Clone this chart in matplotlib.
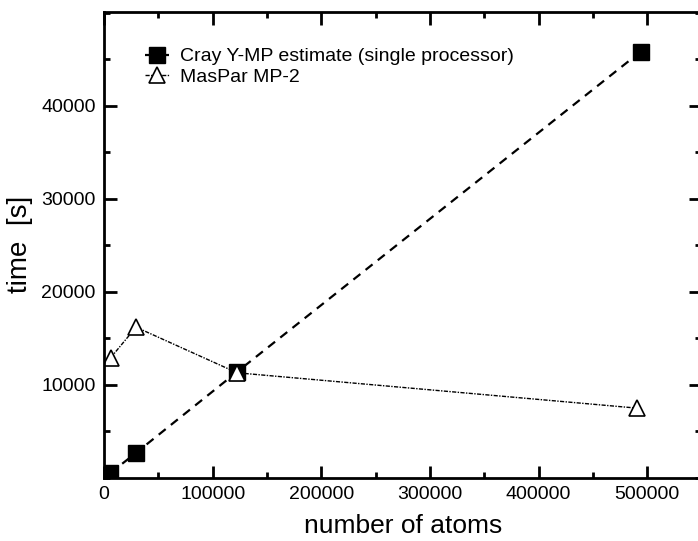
import numpy as np
import matplotlib.pyplot as plt
from matplotlib.ticker import MultipleLocator

plt.rcParams['font.family'] = ['Liberation Sans', 'DejaVu Sans']

# data
atoms_cray = [5500, 29500, 122500, 494000]
time_cray = [500, 2700, 11400, 45800]
atoms_maspar = [6000, 29500, 122500, 491000]
time_maspar = [12900, 16200, 11300, 7500]

fig = plt.figure(figsize=(6.98, 5.41), dpi=100)
ax = fig.add_axes([0.149, 0.1165, 0.856, 0.862])

ax.plot(atoms_cray, time_cray, color='black', linestyle=(0, (4, 3)), linewidth=1.6,
        marker='s', markersize=12, markerfacecolor='black',
        label='Cray Y-MP estimate (single processor)')
ax.plot(atoms_maspar, time_maspar, color='black', linestyle=(0, (3, 1, 1, 1)), linewidth=1.0,
        marker='^', markersize=11, markerfacecolor='white', markeredgewidth=1.2,
        label='MasPar MP-2')

ax.set_xlim(0, 550000)
ax.set_ylim(0, 50100)
ax.xaxis.set_major_locator(MultipleLocator(100000))
ax.xaxis.set_minor_locator(MultipleLocator(50000))
ax.yaxis.set_minor_locator(MultipleLocator(5000))
ax.set_yticks([10000, 20000, 30000, 40000])

ax.tick_params(which='both', direction='in', top=True, right=True, width=2,
               labelsize=14, pad=6)
ax.tick_params(which='major', length=9)
ax.tick_params(which='minor', length=4)
for s in ax.spines.values():
    s.set_linewidth(2)

ax.set_xlabel('number of atoms', fontsize=19, labelpad=8)
ax.set_ylabel('time  [s]', fontsize=20, labelpad=6)

ax.legend(loc='upper left', bbox_to_anchor=(0.04, 0.96), frameon=False, fontsize=14,
          handlelength=1.2, handletextpad=0.6, labelspacing=0.15)

fig.savefig('out.png', dpi=100)
